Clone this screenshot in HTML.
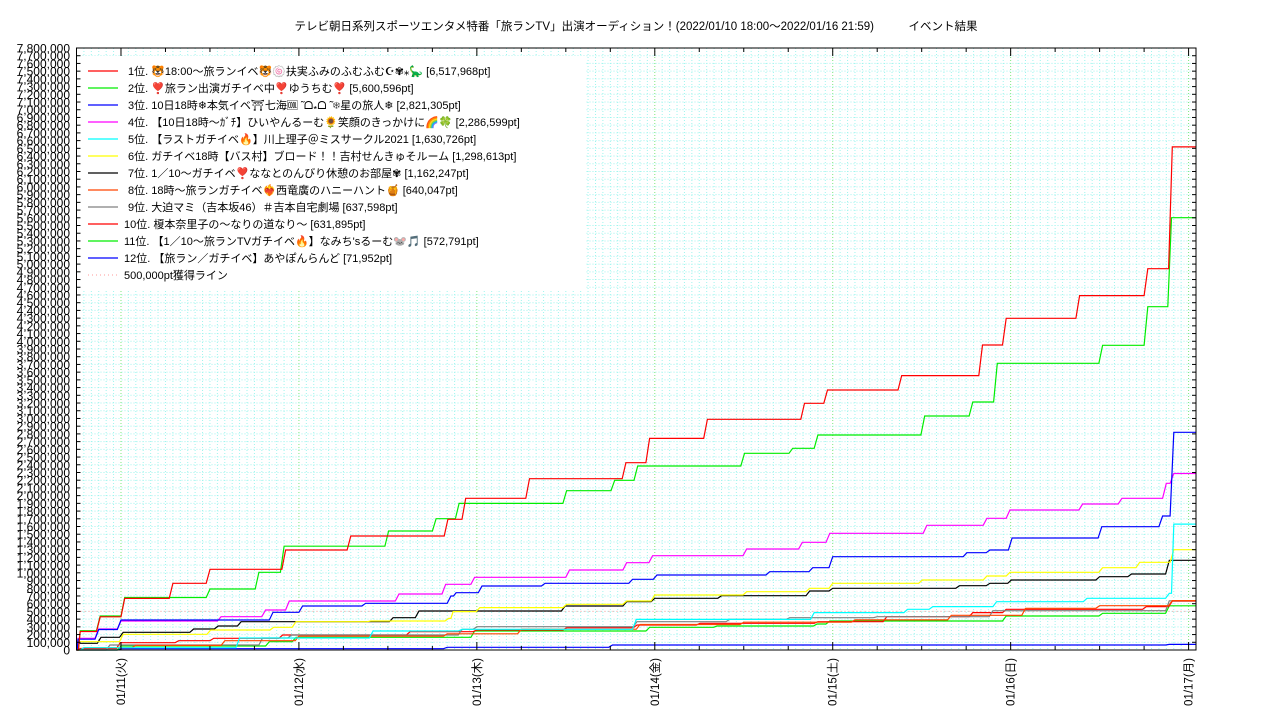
<!DOCTYPE html>
<html><head><meta charset="utf-8">
<style>
html,body{margin:0;padding:0;background:#fff;}
svg{display:block;font-family:"Liberation Sans","Noto Sans CJK JP",sans-serif;}
</style></head>
<body>
<svg id="chart" width="1280" height="720" viewBox="0 0 1280 720" xmlns="http://www.w3.org/2000/svg">
<text x="636" y="30" font-size="11.5" text-anchor="middle" fill="#000">テレビ朝日系列スポーツエンタメ特番「旅ランTV」出演オーディション！(2022/01/10 18:00～2022/01/16 21:59)　　　イベント結果</text>
<g id="grid"></g>
<rect x="80" y="56" width="505" height="234" fill="#fff"/>
<g id="series"></g>
<g id="axes"></g>
<g id="legend"></g>
</svg>
<script>
const NS="http://www.w3.org/2000/svg";
// axis definitions
const yTickStep=100; // thousands
const yMax=7800;
const xMaxHours=151;
const dayLabels=["01/11(火)","01/12(水)","01/13(木)","01/14(金)","01/15(土)","01/16(日)","01/17(月)"];
const dayHours=[6,30,54,78,102,126,150];
const thresholdValue=500;

// series data: times in hours since 01/10 18:00, values in thousands of pt
const names=["1位. 🐯18:00～旅ランイベ🐯🍥扶実ふみのふむふむ☪︎✾⁎🦕 [6,517,968pt]","2位. ❣️旅ラン出演ガチイベ中❣️ゆうちむ❣️ [5,600,596pt]","3位. 10日18時❄本気イベ⛩七海🆒 ̃ ᗝ⁎ᗝ ̃ ❄星の旅人❄ [2,821,305pt]","4位. 【10日18時～ｶﾞﾁ】ひいやんるーむ🌻笑顔のきっかけに🌈🍀 [2,286,599pt]","5位. 【ラストガチイベ🔥】川上理子＠ミスサークル2021 [1,630,726pt]","6位. ガチイベ18時【バス村】ブロード！！吉村せんきゅそルーム [1,298,613pt]","7位. 1／10～ガチイベ❣️ななとのんびり休憩のお部屋✾ [1,162,247pt]","8位. 18時～旅ランガチイベ❤️‍🔥西竜廣のハニーハント🍯 [640,047pt]","9位. 大迫マミ（吉本坂46）＃吉本自宅劇場 [637,598pt]","10位. 榎本奈里子の～なりの道なり～ [631,895pt]","11位. 【1／10～旅ランTVガチイベ🔥】なみち'sるーむ🐭🎵 [572,791pt]","12位. 【旅ラン／ガチイベ】あやぽんらんど [71,952pt]"];
const colors=["#ff0000","#00ee00","#0000ff","#ff00ff","#00ffff","#ffff00","#000000","#ff4500","#808080","#ff0000","#00ee00","#0000ff"];
const t1=[0,0.5,3.2,6.5,13,18,28.2,37,50.1,52.5,61.1,74.1,77.3,85.1,98.2,101.3,111.3,122.2,125.4,135.3,144.5,147.8];
const v1=[0,240,430,668,864,1045,1296,1477,1693,1965,2220,2427,2742,2989,3197,3369,3555,3952,4298,4592,4940,6518];
const t2=[0,0.5,3.2,6.5,18,24.6,28,42.1,48.5,51.6,66.1,72.6,75.7,90.1,96.6,100,114.4,120.9,124.2,138.4,144.5,147.7];
const v2=[0,250,440,680,790,1007,1345,1542,1701,1900,2064,2199,2384,2548,2613,2786,3032,3213,3715,3948,4448,5601];
const t3=[0,0.2,3.0,6.0,26.5,30.5,39.0,50.5,51.2,54.7,63.2,75.0,78.3,93.5,99.3,102,120.1,123.2,126.2,138.3,146.5,148];
const v3=[0,140,265,389,488,570,605,700,742,829,864,916,972,1015,1066,1209,1261,1296,1451,1598,1736,2821];
const t4=[0,0.2,3.0,6.0,19.5,25.5,28.7,43.5,49.8,53.7,66.5,74.2,77.7,90.4,97.9,101.6,114.7,122.8,125.9,135.7,141,147,148];
const v4=[0,151,272,376,432,518,635,726,851,942,1037,1131,1222,1309,1395,1512,1616,1706,1814,1892,1966,2160,2287];
const t5=[0,1,22,40,52,75.5,99.5,112.1,115.5,124.1,136.3,147.4,148];
const v5=[0,30,155,246,268,397,484,527,562,626,670,735,1631];
const t6=[0,0.2,6.3,18.1,26.6,29.6,39.7,50.2,50.8,54.4,66.1,74.2,78.0,90.4,98.9,102,114.1,122.8,125.9,138.4,143.4,148];
const v6=[0,108,203,259,294,367,376,410,497,549,592,635,713,756,799,864,907,959,1007,1066,1136,1299];
const t7=[0,0.2,3.3,6.3,15.8,19.1,22.2,42.7,46.2,65.9,74.2,78.0,87.0,98.9,102,119.1,123.2,126.1,138,142.3,147.4];
const v7=[0,87,165,229,272,311,367,419,505,570,626,670,704,764,799,833,864,907,950,985,1162];
const t8=[0,1,8,20,30,50,60,76,90,105,118,128,138,147.8];
const v8=[0,30,60,120,180,210,270,330,360,390,450,540,574,640];
const t9=[0,4.5,25.1,29,52,54,75.6,88.1,96.2,108,123.6,147.4];
const v9=[0,65,155,194,268,302,367,397,419,432,509,638];
const t10=[0,0.5,5.9,13.8,18.5,27.8,45,54,66.1,75.6,84.1,100,109.3,120.9,125.4,144.3,147.8];
const v10=[0,20,95,121,151,194,237,259,289,324,346,367,432,484,527,562,632];
const t11=[0,6,26,29.6,53.7,77.3,86.4,99.9,101.6,125.4,138.4,147.4];
const v11=[0,52,108,165,246,294,311,337,376,441,475,573];
const t12=[0,6,50,72.3,147.4];
const v12=[0,17,35,65,72];
const seriesTimes=[t1,t2,t3,t4,t5,t6,t7,t8,t9,t10,t11,t12];
const seriesValues=[v1,v2,v3,v4,v5,v6,v7,v8,v9,v10,v11,v12];

const PX0=76.5, PX1=1196, PY0=650, PY1=48;
function xs(h){return PX0+(PX1-PX0)*h/xMaxHours;}
function ys(v){return PY0-(PY0-PY1)*v/yMax;}
function mk(tag,attrs,parent){const e=document.createElementNS(NS,tag);for(const k in attrs)e.setAttribute(k,attrs[k]);parent.appendChild(e);return e;}

const grid=document.getElementById('grid');
for(let h=1;h<xMaxHours;h++){
  const gl=mk('line',{x1:xs(h),x2:xs(h),y1:PY1,y2:PY0,stroke:(h%24===6)?'#7ee87e':'#9ff5ee','stroke-width':1,'stroke-dasharray':'1,2'},grid);
  
  
}
for(let v=yTickStep;v<yMax;v+=yTickStep){
  const gl=mk('line',{x1:PX0,x2:PX1,y1:ys(v),y2:ys(v),stroke:'#9ff5ee','stroke-width':1,'stroke-dasharray':'1,2'},grid);
  
  
}
const series=document.getElementById('series');
const th=mk('line',{x1:PX0,x2:PX1,y1:ys(thresholdValue),y2:ys(thresholdValue),stroke:'#ff9999','stroke-width':1,'stroke-dasharray':'1,3'},series);


for(let s=seriesTimes.length-1;s>=0;s--){
  const T=seriesTimes[s],V=seriesValues[s];
  let pts=[[xs(T[0]),ys(V[0])]];
  for(let i=1;i<T.length;i++){
    const ramp=Math.min(0.5,(T[i]-T[i-1])/2);
    pts.push([xs(T[i]-ramp),ys(V[i-1])]);
    pts.push([xs(T[i]),ys(V[i])]);
  }
  pts.push([xs(xMaxHours),ys(V[V.length-1])]);
  const pl=mk('polyline',{points:pts.map(p=>p[0].toFixed(1)+','+p[1].toFixed(1)).join(' '),fill:'none',stroke:colors[s],'stroke-width':1.2},series);
  
  
}
const axes=document.getElementById('axes');
const frame=mk('rect',{x:PX0,y:PY1,width:PX1-PX0,height:PY0-PY1,fill:'none',stroke:'#000','stroke-width':1},axes);


for(let v=0;v<=yMax;v+=yTickStep){
  const y=ys(v);
  mk('line',{x1:PX0,x2:PX0+4,y1:y,y2:y,stroke:'#000'},axes);
  mk('line',{x1:PX1-4,x2:PX1,y1:y,y2:y,stroke:'#000'},axes);
  const t=mk('text',{x:70,y:y+4.5,'font-size':12,'text-anchor':'end',fill:'#000'},axes);
  t.textContent=v.toLocaleString('en-US')+(v>0?',000':'');
  if(v===0)t.textContent='0';
  
  
}
for(let h=6;h<xMaxHours;h+=6){
  const x=xs(h),major=(h%24===6);
  mk('line',{x1:x,x2:x,y1:PY0,y2:PY0-(major?8:4),stroke:'#000'},axes);
  mk('line',{x1:x,x2:x,y1:PY1,y2:PY1+(major?8:4),stroke:'#000'},axes);
}
for(let i=0;i<dayLabels.length;i++){
  const x=xs(dayHours[i])+4;
  const t=mk('text',{x:x,y:658,'font-size':11.5,'text-anchor':'end',fill:'#000',transform:'rotate(-90 '+x+' 658)'},axes);
  t.textContent=dayLabels[i];
  
  
}
const legend=document.getElementById('legend');
for(let i=0;i<names.length;i++){
  const y=71+i*17;
  const ln=mk('line',{x1:88,x2:118,y1:y,y2:y,stroke:colors[i],'stroke-width':1.2},legend);
  
  
  const t=mk('text',{x:i<9?128:124,y:y+4,'font-size':11,fill:'#000'},legend);
  t.textContent=names[i];
  
  
}
const tl=mk('line',{x1:88,x2:118,y1:275,y2:275,stroke:'#ff9999','stroke-dasharray':'1,3'},legend);


const tt=mk('text',{x:124,y:279,'font-size':11,fill:'#000'},legend);
tt.textContent='500,000pt獲得ライン';


</script>
</body></html>
